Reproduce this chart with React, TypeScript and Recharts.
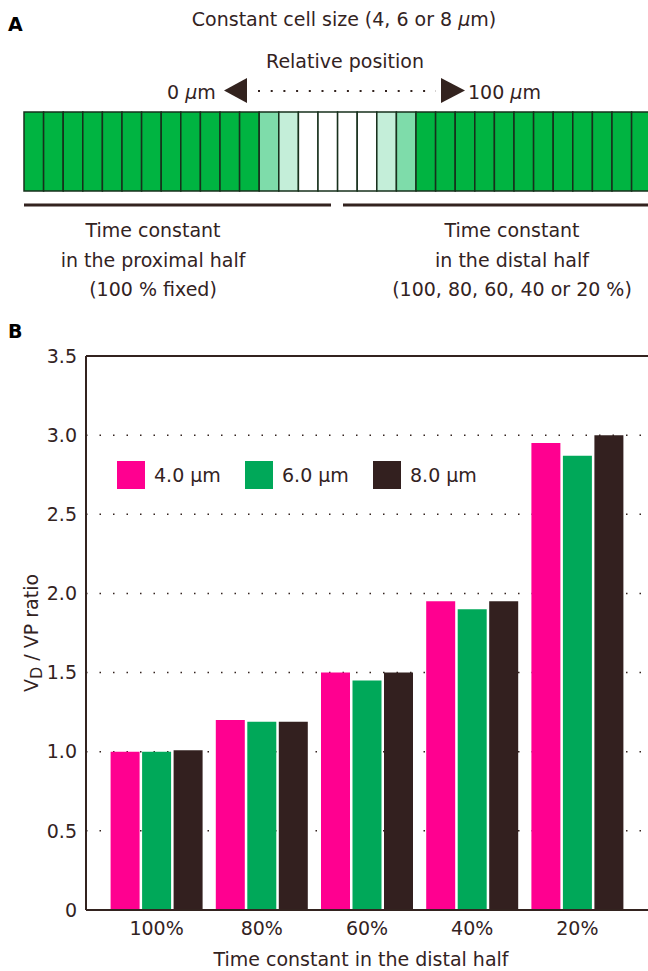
import React from 'react';
import { BarChart, Bar, XAxis, YAxis, CartesianGrid, ReferenceLine, Label } from 'recharts';

// Panel B data
const CATEGORIES = ['100%', '80%', '60%', '40%', '20%'];
const CELL_4UM = [1.0, 1.2, 1.5, 1.95, 2.95];
const CELL_6UM = [1.0, 1.19, 1.45, 1.9, 2.87];
const CELL_8UM = [1.01, 1.19, 1.5, 1.95, 3.0];
const Y_TICKS = [0, 0.5, 1.0, 1.5, 2.0, 2.5, 3.0, 3.5];

const SERIES = [
  { key: 'um4', name: '4.0 µm', color: '#FF0090' },
  { key: 'um6', name: '6.0 µm', color: '#00A859' },
  { key: 'um8', name: '8.0 µm', color: '#33201F' },
];

// Panel A schematic: fill of each cell, proximal -> distal
const GREEN = '#00B441';
const MID = '#7EDCAA';
const PALE = '#C4EED9';
const CELL_FILLS = [
  ...Array(12).fill(GREEN),
  MID, PALE, '#FFFFFF', '#FFFFFF', '#FFFFFF', '#FFFFFF', PALE, MID,
  ...Array(12).fill(GREEN),
];

const INK = '#33231F';
const FONT = '"DejaVu Sans", sans-serif';

const chartData = CATEGORIES.map((c, i) => ({
  category: c,
  um4: CELL_4UM[i],
  um6: CELL_6UM[i],
  um8: CELL_8UM[i],
}));

function Mu() {
  return <tspan fontStyle="italic">μ</tspan>;
}

function Schematic() {
  const cellW = 19.6;
  return (
    <svg width={648} height={345} style={{ position: 'absolute', left: 0, top: 0 }} fontFamily={FONT}>
      <text x={8} y={31} fontSize={19} fontWeight="bold" fill="#000">A</text>
      <text x={344} y={26} fontSize={19} fill={INK} textAnchor="middle">
        Constant cell size (4, 6 or 8 <Mu />m)
      </text>
      <text x={345} y={68} fontSize={19} fill={INK} textAnchor="middle">Relative position</text>
      <text x={167} y={99} fontSize={19} fill={INK}>0 <Mu />m</text>
      <polygon points="224,90.5 247,78 247,103" fill={INK} />
      <line x1={258} y1={91} x2={436} y2={91} stroke={INK} strokeWidth={2} strokeDasharray="2 10.7" />
      <polygon points="441,78 441,103 465,90.5" fill={INK} />
      <text x={468} y={99} fontSize={19} fill={INK}>100 <Mu />m</text>

      {CELL_FILLS.map((f, i) => (
        <rect key={i} x={24 + i * cellW} y={112} width={cellW} height={79} fill={f} stroke="#17301C" strokeWidth={1.5} />
      ))}

      <line x1={24} y1={205} x2={331} y2={205} stroke={INK} strokeWidth={3} />
      <line x1={343} y1={205} x2={660} y2={205} stroke={INK} strokeWidth={3} />

      <g fontSize={19} fill={INK} textAnchor="middle">
        <text x={153} y={237}>Time constant</text>
        <text x={153} y={267}>in the proximal half</text>
        <text x={153} y={296}>(100 % fixed)</text>
        <text x={512} y={237}>Time constant</text>
        <text x={512} y={267}>in the distal half</text>
        <text x={512} y={296}>(100, 80, 60, 40 or 20 %)</text>
      </g>

      <text x={8} y={338} fontSize={19} fontWeight="bold" fill="#000">B</text>
    </svg>
  );
}

function YLabel(props: any) {
  const vb = props.viewBox || { x: 0, y: 356 - 320, width: 86, height: 554 };
  const cx = vb.x + 38;
  const cy = vb.y + vb.height / 2;
  return (
    <text
      x={cx}
      y={cy}
      transform={`rotate(-90, ${cx}, ${cy})`}
      textAnchor="middle"
      fontSize={19}
      fontFamily={FONT}
      fill={INK}
    >
      V<tspan fontSize={16} dy={4}>D</tspan>
      <tspan dy={-4}> / VP ratio</tspan>
    </text>
  );
}

function LegendBox() {
  return (
    <div
      style={{
        position: 'absolute',
        left: 117,
        top: 461,
        display: 'flex',
        fontFamily: FONT,
        fontSize: 19,
        color: INK,
      }}
    >
      {SERIES.map((s) => (
        <div key={s.key} style={{ display: 'flex', alignItems: 'center', width: 128 }}>
          <div style={{ width: 28, height: 28, background: s.color, marginRight: 9 }} />
          <span>{s.name}</span>
        </div>
      ))}
    </div>
  );
}

export default function App() {
  return (
    <div style={{ position: 'absolute', left: 0, top: 0, width: 648, height: 971, overflow: 'hidden', background: '#fff' }}>
      <Schematic />
      <div style={{ position: 'absolute', left: 0, top: 320 }}>
        <BarChart
          width={648}
          height={651}
          data={chartData}
          margin={{ top: 36, right: 0, bottom: 0, left: 0 }}
          barCategoryGap={6.6}
          barGap={2.5}
        >
          <CartesianGrid vertical={false} stroke={INK} strokeWidth={1.5} strokeDasharray="1.5 12" />
          <ReferenceLine y={3.5} stroke={INK} strokeWidth={2} />
          <XAxis
            dataKey="category"
            height={61}
            padding={{ left: 18, right: 18 }}
            axisLine={{ stroke: INK, strokeWidth: 2 }}
            tickLine={false}
            tickSize={6}
            tickMargin={6}
            tick={{ fill: INK, fontSize: 19, fontFamily: FONT }}
          >
            <Label
              value="Time constant in the distal half"
              position="insideBottom"
              offset={5}
              dx={-6}
              fill={INK}
              fontSize={19}
              fontFamily={FONT}
            />
          </XAxis>
          <YAxis
            width={86}
            domain={[0, 3.5]}
            ticks={Y_TICKS}
            interval={0}
            axisLine={{ stroke: INK, strokeWidth: 2 }}
            tickLine={false}
            tickSize={4}
            tickMargin={5}
            tickFormatter={(v: number) => (v === 0 ? '0' : v.toFixed(1))}
            tick={{ fill: INK, fontSize: 19, fontFamily: FONT }}
            label={{ content: YLabel }}
          />
          {SERIES.map((s) => (
            <Bar key={s.key} dataKey={s.key} name={s.name} fill={s.color} isAnimationActive={false} />
          ))}
        </BarChart>
      </div>
      <LegendBox />
    </div>
  );
}
